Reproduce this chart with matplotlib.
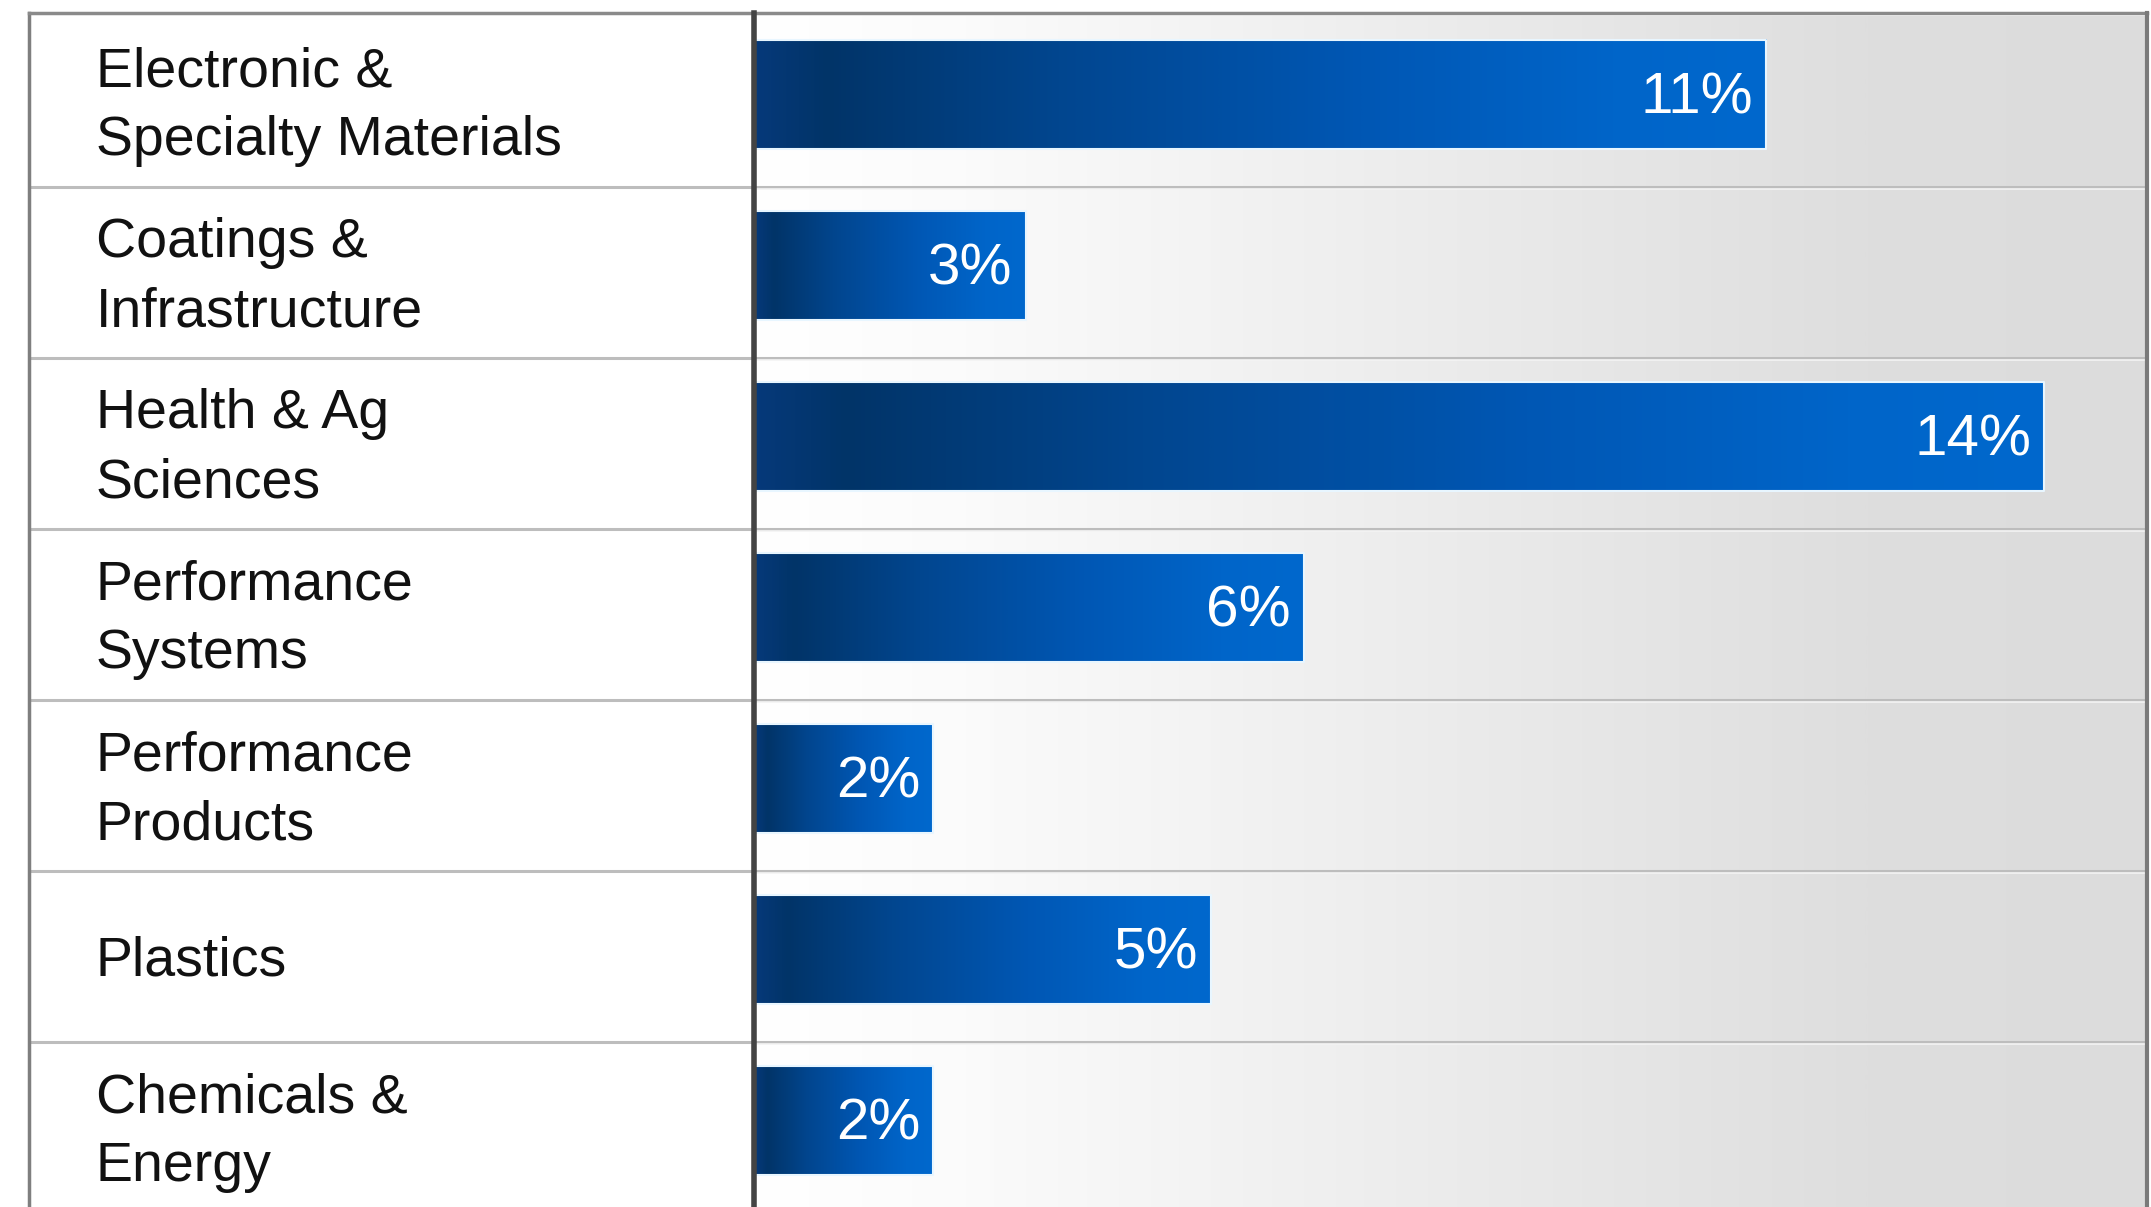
import numpy as np
import matplotlib
matplotlib.use("Agg")
from matplotlib import pyplot as plt
from matplotlib.colors import LinearSegmentedColormap

plt.rcParams["font.family"] = ["Liberation Sans", "DejaVu Sans"]

# data, top to bottom
segments = ["Electronic &\nSpecialty Materials", "Coatings &\nInfrastructure",
            "Health & Ag\nSciences", "Performance\nSystems",
            "Performance\nProducts", "Plastics", "Chemicals &\nEnergy"]
values = [11, 3, 14, 6, 2, 5, 2]
value_labels = ["11%", "3%", "14%", "6%", "2%", "5%", "2%"]

W, H = 2151, 1207
fig = plt.figure(figsize=(W / 100, H / 100), dpi=100)
fig.patch.set_facecolor("white")

x0, xdiv, x1 = 29, 754, 2147
ytop, ybot = 16, 1213
n = len(segments)

def fig_rect(l, r, t, b):
    return [l / W, 1 - b / H, (r - l) / W, (b - t) / H]

ax_l = fig.add_axes(fig_rect(x0, xdiv, ytop, ybot))
ax_r = fig.add_axes(fig_rect(xdiv, x1, ytop, ybot))

for ax in (ax_l, ax_r):
    ax.set_ylim(n, 0)
    ax.set_xticks([])
    ax.set_yticks([])
    for s in ax.spines.values():
        s.set_visible(False)

ax_l.set_xlim(0, 1)
ax_r.set_xlim(0.065, 15.11)

# background gradient of bar panel
bg = LinearSegmentedColormap.from_list("bg", [(0, "#ffffff"), (0.15, "#fbfbfb"),
                                              (0.55, "#e9e9e9"), (0.8, "#dedede"),
                                              (1, "#dcdcdc")])
grad = np.linspace(0, 1, 512).reshape(1, -1)
ax_r.imshow(grad, cmap=bg, aspect="auto", extent=[0.065, 15.11, n, 0], zorder=0)

# bars with own gradient
bar_cm = LinearSegmentedColormap.from_list("bar", [(0, "#06397a"), (0.07, "#013468"),
                                                   (0.3, "#02468f"), (0.6, "#0057b4"),
                                                   (0.85, "#0065c9"), (1, "#0068cd")])
for i, (v, lab) in enumerate(zip(values, value_labels)):
    yc = i + 0.46
    h = 0.64
    ax_r.imshow(grad, cmap=bar_cm, aspect="auto",
                extent=[0.08, v, yc + h / 2, yc - h / 2], zorder=2)
    ax_r.plot([0, v, v, 0], [yc - h / 2, yc - h / 2, yc + h / 2, yc + h / 2],
              color="#e8f6ff", lw=1.5, zorder=3)
    ax_r.text(v - 0.14, yc + 0.02, lab, color="white", fontsize=42,
              ha="right", va="center", zorder=4)
ax_r.set_xlim(0.065, 15.11)
ax_r.set_ylim(n, 0)

# labels
for i, s in enumerate(segments):
    ax_l.text(0.092, i + 0.53, s, fontsize=40, color="#111111",
              ha="left", va="center", linespacing=1.42)

# row separators
for i in range(1, n):
    ax_l.axhline(i, color="#bdbdbd", lw=2.2, zorder=5)
    ax_r.axhline(i, color="#bdbdbd", lw=2.2, zorder=5)
    ax_r.axhline(i + 0.012, color="#f4f4f4", lw=1.2, zorder=5)

# frame lines
fig.add_artist(plt.Line2D([x0 / W, x0 / W], [0, 1 - 13 / H], color="#7f7f7f", lw=2.5))
fig.add_artist(plt.Line2D([x0 / W, x1 / W], [1 - 13 / H, 1 - 13 / H], color="#8a8a8a", lw=2.5))
fig.add_artist(plt.Line2D([xdiv / W, xdiv / W], [0, 1 - 13 / H], color="#444444", lw=4))
fig.add_artist(plt.Line2D([x1 / W, x1 / W], [0, 1 - 13 / H], color="#7a7a7a", lw=3))

fig.savefig("out.png", dpi=100, facecolor="white")
